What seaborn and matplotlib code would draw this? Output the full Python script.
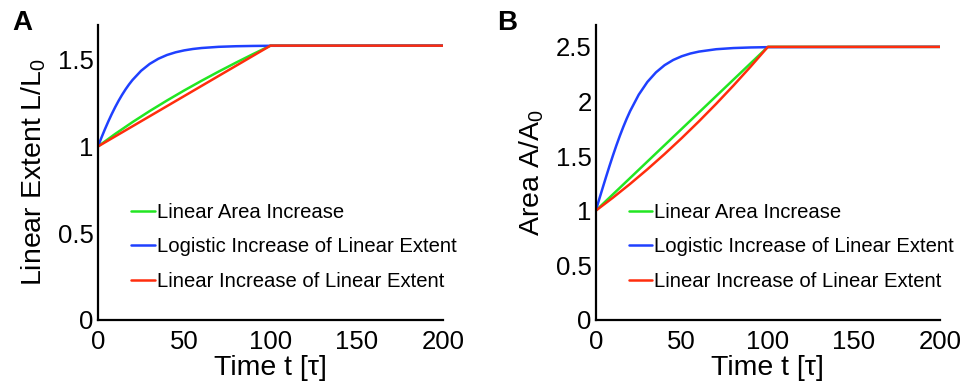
import numpy as np
import pandas as pd
import matplotlib
matplotlib.use("Agg")
import matplotlib.pyplot as plt
import seaborn as sns

# ---------------- data ----------------
t_fine = [0, 2, 4, 6, 8, 10, 12, 14, 16, 18, 20, 25, 30, 35, 40, 45, 50, 55,
          60, 70, 80, 90, 100, 200]
t_coarse = [0, 10, 20, 30, 40, 50, 60, 70, 80, 90, 100, 200]
t_lin = [0, 100, 200]

# Panel A: linear extent L/L0
A_green = [1.0000, 1.0724, 1.1402, 1.2042, 1.2649, 1.3229, 1.3784, 1.4318,
           1.4832, 1.5330, 1.5811, 1.5811]
A_blue = [1.0000, 1.0504, 1.0986, 1.1442, 1.1871, 1.2270, 1.2640, 1.2980,
          1.3291, 1.3574, 1.3829, 1.4361, 1.4760, 1.5055, 1.5272, 1.5427,
          1.5538, 1.5618, 1.5674, 1.5743, 1.5777, 1.5794, 1.5803, 1.5811]
A_red = [1.0000, 1.5811, 1.5811]

# Panel B: area A/A0
B_green = [1.0, 2.5, 2.5]
B_blue = [1.0000, 1.1033, 1.2069, 1.3092, 1.4092, 1.5055, 1.5977, 1.6848,
          1.7665, 1.8425, 1.9124, 2.0624, 2.1786, 2.2665, 2.3323, 2.3799,
          2.4143, 2.4392, 2.4567, 2.4784, 2.4891, 2.4945, 2.4973, 2.5000]
B_red = [1.0000, 1.1196, 1.2459, 1.3791, 1.5189, 1.6655, 1.8189, 1.9790,
         2.1459, 2.3195, 2.5000, 2.5000]

labels = ["Linear Area Increase", "Logistic Increase of Linear Extent",
          "Linear Increase of Linear Extent"]
x_ticks = [0, 50, 100, 150, 200]
A_yticks = [0, 0.5, 1, 1.5]
A_yticklabels = ["0", "0.5", "1", "1.5"]
B_yticks = [0, 0.5, 1, 1.5, 2, 2.5]
B_yticklabels = ["0", "0.5", "1", "1.5", "2", "2.5"]

# ---------------- style ----------------
sns.set_style("white")
plt.rcParams["font.family"] = ["Liberation Sans", "DejaVu Sans"]
plt.rcParams["mathtext.fontset"] = "custom"
plt.rcParams["mathtext.rm"] = "Liberation Sans"
plt.rcParams["mathtext.it"] = "Liberation Sans:italic"
plt.rcParams["text.color"] = "black"
plt.rcParams["axes.labelcolor"] = "black"
plt.rcParams["xtick.color"] = "black"
plt.rcParams["ytick.color"] = "black"

colors = ["#22e622", "#1f40ff", "#ff2d0d"]

fig = plt.figure(figsize=(9.68, 3.83), dpi=100)
axA = fig.add_axes([0.1012, 0.1645, 0.3564, 0.7702])
axB = fig.add_axes([0.6154, 0.1645, 0.3557, 0.7702])

lw = 1.8
panels = [
    (axA, [(t_coarse, A_green), (t_fine, A_blue), (t_lin, A_red)], 1.7,
     A_yticks, A_yticklabels, r"Linear Extent L/L$_\mathregular{0}$", "A"),
    (axB, [(t_lin, B_green), (t_fine, B_blue), (t_coarse, B_red)], 2.7,
     B_yticks, B_yticklabels, r"Area A/A$_\mathregular{0}$", "B"),
]

for ax, series, ytop, yt, ytl, ylab, letter in panels:
    for (tx, vals), c, lab in zip(series, colors, labels):
        df = pd.DataFrame({"t": tx, "v": vals})
        sns.lineplot(data=df, x="t", y="v", ax=ax, color=c, lw=lw, label=lab,
                     estimator=None, sort=False)
    ax.set_xlim(0, 200)
    ax.set_ylim(0, ytop)
    ax.set_xticks(x_ticks)
    ax.set_xticklabels([str(v) for v in x_ticks])
    ax.set_yticks(yt)
    ax.set_yticklabels(ytl)
    ax.tick_params(direction="in", length=3.5, width=1.2, labelsize=18.5,
                   colors="black", labelcolor="black")
    ax.tick_params(axis="x", pad=7)
    ax.tick_params(axis="y", pad=3)
    for s in ["top", "right"]:
        ax.spines[s].set_visible(False)
    for s in ["left", "bottom"]:
        ax.spines[s].set_linewidth(1.6)
        ax.spines[s].set_color("black")
    ax.set_xlabel(r"Time t [τ]", fontsize=20.5, labelpad=1, color="black")
    ax.set_ylabel(ylab, fontsize=20.5, labelpad=7, color="black")
    leg = ax.legend(loc="center left", bbox_to_anchor=(0.097, 0.2475),
                    frameon=False, fontsize=14.6, handlelength=1.15,
                    handletextpad=0.1, labelspacing=0.75, borderpad=0,
                    borderaxespad=0)
    for h in leg.get_lines():
        h.set_linewidth(lw)
    for txt in leg.get_texts():
        txt.set_color("black")

fig.text(12 / 968, 1 - 10 / 383, "A", fontsize=20, fontweight="bold",
         va="top", ha="left")
fig.text(497 / 968, 1 - 10 / 383, "B", fontsize=20, fontweight="bold",
         va="top", ha="left")

fig.savefig("out.png", dpi=100)
